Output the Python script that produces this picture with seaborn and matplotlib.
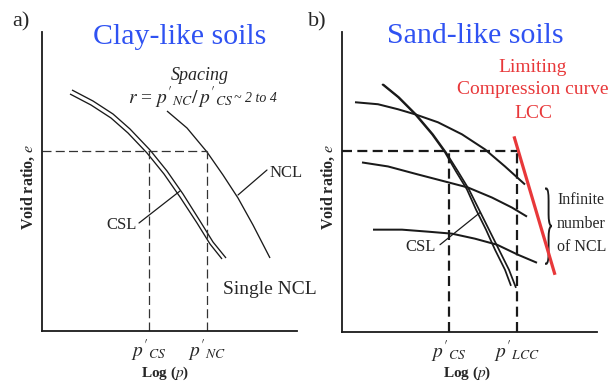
import numpy as np
import pandas as pd
import matplotlib
matplotlib.use("Agg")
import matplotlib.pyplot as plt
import seaborn as sns
from matplotlib.textpath import TextPath
from matplotlib.patches import PathPatch
from matplotlib.font_manager import FontProperties
import matplotlib.transforms as mtransforms

# ---------------- data (schematic units) ----------------
# Panel a: clay-like soils
a_csl_outer_x = [30, 51, 71, 88, 108, 125, 141, 158, 171, 184]
a_csl_outer_y = [241, 230, 217, 202, 181, 160, 137, 110, 89, 73]
a_csl_inner_x = [28, 49, 69, 86, 105, 122, 138, 155, 168, 180]
a_csl_inner_y = [237, 226, 213, 198, 178, 157, 134, 108, 87, 72]
a_ncl_x = [125, 145, 165, 181, 196, 211, 228]
a_ncl_y = [220, 203, 179, 156, 133, 106, 73]
a_e_level = 180
a_p_cs = 107
a_p_nc = 165

# Panel b: sand-like soils
b_csl_a_x = [40, 56, 73, 90, 103, 114, 125, 134, 144, 153, 163, 169]
b_csl_a_y = [247, 234, 217, 197, 179, 160, 142, 122, 102, 82, 62, 46]
b_csl_b_x = [41, 57, 74, 91, 104, 116, 127, 137, 147, 157, 167, 174]
b_csl_b_y = [247, 234, 217, 197, 179, 160, 142, 122, 102, 82, 62, 44]
b_ncl1_x = [13, 36, 56, 73, 96, 120, 143, 163, 183]
b_ncl1_y = [229, 227, 222, 217, 209, 197, 182, 165, 147]
b_ncl2_x = [20, 46, 76, 103, 126, 150, 170, 185]
b_ncl2_y = [169, 165, 157, 150, 144, 134, 124, 115]
b_ncl3_x = [31, 60, 86, 110, 133, 155, 176, 195]
b_ncl3_y = [102, 102, 100, 98, 93, 87, 77, 69]
b_lcc_x = [172, 213]
b_lcc_y = [195, 57]
b_e_level = 180
b_p_cs = 107
b_p_lcc = 175

a_tick_labels = [r"$p'_{CS}$", r"$p'_{NC}$"]
b_tick_labels = [r"$p'_{CS}$", r"$p'_{LCC}$"]

# ---------------- styling ----------------
sns.set_theme(style="white")
plt.rcParams['font.family'] = ['Liberation Serif', 'DejaVu Serif']
plt.rcParams['mathtext.fontset'] = 'stix'

W, H = 609, 383
fig = plt.figure(figsize=(W / 100, H / 100), dpi=100)
fig.patch.set_facecolor('white')

def fx(px):
    return px / W

def fy(py):
    return 1 - py / H

BLUE = '#2f52f2'
RED = '#e8383a'

axA = fig.add_axes([fx(42), fy(331), 255 / W, 299 / H])
axB = fig.add_axes([fx(342), fy(332), 255 / W, 300 / H])

for ax in (axA, axB):
    ax.set_xlim(0, 255)
    ax.set_ylim(0, 299)
    ax.set_facecolor('none')
    for s in ('top', 'right'):
        ax.spines[s].set_visible(False)
    for s in ('left', 'bottom'):
        ax.spines[s].set_color('#1a1a1a')
        ax.spines[s].set_linewidth(1.3)
    ax.set_yticks([])
    ax.tick_params(axis='x', length=0, pad=5, labelsize=14)

def line(ax, xs, ys, lw, color='k'):
    df = pd.DataFrame({'x': xs, 'y': ys})
    sns.lineplot(data=df, x='x', y='y', sort=False, estimator=None, ax=ax,
                 color=color, lw=lw, solid_capstyle='butt')

# Panel a curves
line(axA, a_csl_outer_x, a_csl_outer_y, 0.95)
line(axA, a_csl_inner_x, a_csl_inner_y, 0.95)
line(axA, a_ncl_x, a_ncl_y, 0.95)
da = dict(color='#333333', lw=0.9, ls=(0, (7.2, 3.4)))
axA.plot([0, a_p_nc], [a_e_level, a_e_level], **da)
axA.plot([a_p_cs, a_p_cs], [0, a_e_level], **da)
axA.plot([a_p_nc, a_p_nc], [0, a_e_level], **da)
axA.set_xticks([a_p_cs, a_p_nc], a_tick_labels)
axA.set_xlabel('')
axA.set_ylabel('')

# pointers & labels panel a
axA.plot([225, 196], [161, 136], color='k', lw=0.9)
axA.text(228, 158, 'NCL', fontsize=12, ha='left', va='center')
axA.plot([97, 138], [108, 140], color='k', lw=0.9)
axA.text(95, 106, 'CSL', fontsize=12, ha='right', va='center')
axA.text(181, 41, 'Single NCL', fontsize=14, ha='left', va='center', clip_on=False)

# Panel b curves
line(axB, b_ncl1_x, b_ncl1_y, 1.45)
line(axB, b_ncl2_x, b_ncl2_y, 1.45)
line(axB, b_ncl3_x, b_ncl3_y, 1.45)
line(axB, b_csl_a_x, b_csl_a_y, 1.25)
line(axB, b_csl_b_x, b_csl_b_y, 1.25)
line(axB, b_lcc_x, b_lcc_y, 2.3, color=RED)
db = dict(color='k', lw=1.6, ls=(0, (4.5, 2.4)))
axB.plot([0, b_p_lcc], [b_e_level, b_e_level], **db)
axB.plot([b_p_cs, b_p_cs], [0, b_e_level], **db)
axB.plot([b_p_lcc, b_p_lcc], [0, b_e_level], **db)
axB.set_xticks([b_p_cs, b_p_lcc], b_tick_labels)
axB.set_xlabel('')
axB.set_ylabel('')

axB.plot([98, 138], [87, 119], color='k', lw=0.9)
axB.text(94, 85, 'CSL', fontsize=12, ha='right', va='center')

# brace
tp = TextPath((0, 0), "}", size=1, prop=FontProperties(family='Liberation Serif'))
bb = tp.get_extents()
bx0, by0, bw, bh = 203, 67, 7, 77
tr = (mtransforms.Affine2D().translate(-bb.x0, -bb.y0)
      .scale(bw / bb.width, bh / bb.height).translate(bx0, by0))
axB.add_patch(PathPatch(tr.transform_path(tp), transform=axB.transData,
                        fc='k', ec='none', clip_on=False))
for txt, yy in (('Infinite', 132), ('number', 108), ('of NCL', 85)):
    axB.text(215, yy, txt, fontsize=11.5, ha='left', va='center', clip_on=False)

# ---------------- figure texts ----------------
fig.text(fx(21), fy(22), 'a)', fontsize=16, ha='center', va='center')
fig.text(fx(317), fy(22), 'b)', fontsize=16, ha='center', va='center')
fig.text(fx(180), fy(37), 'Clay-like soils', fontsize=21.5, color=BLUE, ha='center', va='center')
fig.text(fx(475), fy(36), 'Sand-like soils', fontsize=21.5, color=BLUE, ha='center', va='center')
fig.text(fx(200), fy(75), 'Spacing', fontsize=13, style='italic', ha='center', va='center')
fig.text(fx(128), fy(98), r"$r$ = $p'_{NC}/\,p'_{CS}$", fontsize=14, ha='left', va='center')
fig.text(fx(277), fy(99), '~ 2 to 4', fontsize=10, style='italic', ha='right', va='center')
fig.text(fx(533), fy(67), 'Limiting', fontsize=14, color=RED, ha='center', va='center')
fig.text(fx(533), fy(90), 'Compression curve', fontsize=14, color=RED, ha='center', va='center')
fig.text(fx(533), fy(113), 'LCC', fontsize=14, color=RED, ha='center', va='center')

for xc in (28, 328):
    fig.text(fx(xc), fy(187), r'Void ratio, $e$', fontsize=11.5, fontweight='bold',
             rotation=90, ha='center', va='center')
for xc in (165, 467):
    fig.text(fx(xc), fy(373), r'Log ($p$)', fontsize=11, fontweight='bold',
             ha='center', va='center')

fig.savefig('out.png', dpi=100, facecolor='white')
